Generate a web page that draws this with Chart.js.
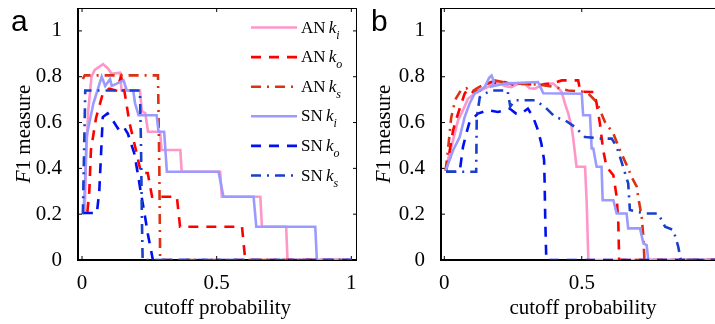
<!DOCTYPE html>
<html>
<head>
<meta charset="utf-8">
<script src="https://cdn.jsdelivr.net/npm/chart.js@4.4.0/dist/chart.umd.min.js"></script>
<style>
  html, body { margin: 0; padding: 0; background: #fff; }
  #wrap { position: relative; width: 715px; height: 324px; overflow: hidden; }
  canvas { position: absolute; top: 0; }
  #chartA { left: 0; }
  #chartB { left: 360px; }
</style>
</head>
<body>
<div id="wrap">
  <canvas id="chartA" width="360" height="324"></canvas>
  <canvas id="chartB" width="370" height="324"></canvas>
</div>
<script>
// axis ticks
const xTicks = [0, 0.5, 1];
const yTicks = [0, 0.2, 0.4, 0.6, 0.8, 1];

// legend entries: network + subscript of k
const seriesNet = ["AN", "AN", "AN", "SN", "SN", "SN"];
const seriesSub = ["i", "o", "s", "i", "o", "s"];

// panel a, [cutoff, F1]
const aANki = [[0.005,0.21],[0.01,0.21],[0.015,0.45],[0.023,0.65],[0.035,0.8],[0.047,0.83],[0.078,0.855],[0.097,0.835],[0.11,0.813],[0.14,0.818],[0.147,0.74],[0.215,0.74],[0.222,0.65],[0.235,0.64],[0.245,0.56],[0.29,0.56],[0.295,0.48],[0.365,0.48],[0.37,0.385],[0.513,0.385],[0.519,0.276],[0.662,0.276],[0.668,0.145],[0.758,0.145],[0.763,0],[1,0]];
const aANko = [[0.02,0.21],[0.027,0.3],[0.033,0.48],[0.052,0.62],[0.077,0.726],[0.101,0.748],[0.126,0.74],[0.145,0.8],[0.157,0.74],[0.176,0.6],[0.2,0.48],[0.219,0.38],[0.244,0.38],[0.26,0.276],[0.352,0.276],[0.364,0.145],[0.594,0.145],[0.606,0],[1,0]];
const aANks = [[0.003,0.79],[0.01,0.806],[0.282,0.806],[0.287,0.4],[0.29,0],[1,0]];
const aSNki = [[0.005,0.21],[0.01,0.3],[0.017,0.54],[0.042,0.683],[0.073,0.8],[0.086,0.76],[0.104,0.79],[0.11,0.76],[0.129,0.77],[0.154,0.784],[0.166,0.74],[0.19,0.74],[0.197,0.683],[0.21,0.632],[0.277,0.632],[0.284,0.56],[0.305,0.56],[0.315,0.385],[0.507,0.385],[0.525,0.276],[0.637,0.276],[0.647,0.145],[0.866,0.145],[0.872,0],[1,0]];
const aSNko = [[0.003,0.205],[0.055,0.205],[0.064,0.3],[0.077,0.624],[0.095,0.64],[0.114,0.61],[0.133,0.574],[0.151,0.588],[0.17,0.552],[0.194,0.465],[0.207,0.378],[0.219,0.29],[0.232,0.203],[0.244,0.116],[0.256,0.044],[0.263,0],[1,0]];
const aSNks = [[0.003,0.2],[0.012,0.74],[0.215,0.74],[0.219,0.5],[0.222,0.2],[0.225,0],[1,0]];

// panel b
const bANki = [[0.005,0.39],[0.013,0.436],[0.032,0.523],[0.05,0.61],[0.068,0.654],[0.086,0.704],[0.11,0.726],[0.15,0.75],[0.195,0.777],[0.22,0.76],[0.244,0.755],[0.27,0.77],[0.292,0.77],[0.31,0.75],[0.329,0.748],[0.365,0.77],[0.396,0.77],[0.415,0.75],[0.427,0.733],[0.439,0.683],[0.451,0.639],[0.463,0.581],[0.469,0.53],[0.481,0.407],[0.512,0.407],[0.518,0.247],[0.524,0],[1,0]];
const bANko = [[0.007,0.39],[0.02,0.48],[0.032,0.566],[0.045,0.62],[0.062,0.683],[0.074,0.726],[0.086,0.748],[0.104,0.733],[0.129,0.74],[0.147,0.763],[0.171,0.777],[0.195,0.77],[0.22,0.777],[0.256,0.763],[0.292,0.77],[0.34,0.763],[0.389,0.77],[0.427,0.784],[0.487,0.784],[0.495,0.735],[0.545,0.733],[0.554,0.683],[0.566,0.596],[0.572,0.537],[0.578,0.479],[0.59,0.407],[0.615,0.37],[0.627,0.276],[0.633,0.16],[0.636,0],[1,0]];
const bANks = [[0.005,0.39],[0.015,0.5],[0.025,0.62],[0.04,0.7],[0.06,0.74],[0.08,0.75],[0.1,0.735],[0.12,0.75],[0.15,0.77],[0.18,0.785],[0.22,0.775],[0.26,0.77],[0.3,0.77],[0.35,0.765],[0.4,0.755],[0.45,0.74],[0.5,0.735],[0.524,0.726],[0.554,0.69],[0.584,0.603],[0.615,0.552],[0.639,0.479],[0.669,0.4],[0.681,0.363],[0.7,0.32],[0.705,0.276],[0.718,0.189],[0.724,0.1],[0.728,0],[1,0]];
const bSNki = [[0.005,0.39],[0.032,0.479],[0.056,0.537],[0.074,0.624],[0.092,0.683],[0.11,0.726],[0.147,0.755],[0.163,0.795],[0.172,0.805],[0.18,0.78],[0.175,0.76],[0.165,0.755],[0.22,0.77],[0.3,0.775],[0.341,0.777],[0.36,0.728],[0.5,0.726],[0.505,0.632],[0.53,0.632],[0.536,0.487],[0.542,0.487],[0.554,0.407],[0.572,0.407],[0.576,0.261],[0.615,0.261],[0.627,0.203],[0.663,0.203],[0.669,0.138],[0.712,0.138],[0.724,0.073],[0.736,0.065],[0.742,0],[1,0]];
const bSNko = [[0.007,0.385],[0.056,0.385],[0.068,0.494],[0.08,0.552],[0.092,0.603],[0.122,0.639],[0.159,0.654],[0.195,0.646],[0.238,0.661],[0.26,0.64],[0.28,0.639],[0.304,0.661],[0.323,0.624],[0.341,0.566],[0.353,0.508],[0.363,0.436],[0.365,0.334],[0.367,0.189],[0.371,0],[1,0]];
const bSNks = [[0.007,0.385],[0.116,0.385],[0.118,0.62],[0.129,0.71],[0.147,0.726],[0.172,0.74],[0.23,0.74],[0.24,0.67],[0.257,0.697],[0.33,0.697],[0.366,0.668],[0.403,0.624],[0.439,0.61],[0.475,0.581],[0.512,0.537],[0.572,0.53],[0.609,0.53],[0.627,0.494],[0.639,0.45],[0.669,0.334],[0.675,0.218],[0.73,0.203],[0.778,0.203],[0.803,0.145],[0.833,0.131],[0.851,0.058],[0.86,0],[1,0]];

const SERIF = '"Liberation Serif", "Times New Roman", serif';
const colors = ["#ff96c8", "#ff0000", "#dc3214", "#9b9bff", "#0010f0", "#1a3fcc"];
const dashes = [[], [10, 8], [10, 6, 2, 6], [], [10, 8], [10, 6, 2, 6]];

function makeDatasets(list) {
  return list.map((pts, i) => ({
    label: seriesNet[i] + " k" + seriesSub[i],
    data: pts.map(p => ({ x: p[0], y: p[1] })),
    borderColor: colors[i],
    borderDash: dashes[i],
    borderWidth: 2.6,
    pointRadius: 0,
    tension: 0,
    fill: false,
    order: list.length - 1 - i
  }));
}

function line(ctx, x1, y1, x2, y2) {
  ctx.beginPath();
  ctx.moveTo(x1, y1);
  ctx.lineTo(x2, y2);
  ctx.stroke();
}

const framePlugin = {
  id: "frame",
  beforeDatasetsDraw(chart) {
    const { ctx, chartArea: a, scales } = chart;
    ctx.save();
    ctx.strokeStyle = "#000";
    ctx.lineWidth = 1;
    yTicks.forEach(v => {
      const y = scales.y.getPixelForValue(v);
      line(ctx, a.left, y, a.left + 4, y);
      line(ctx, a.right, y, a.right - 4, y);
    });
    xTicks.forEach(v => {
      const x = scales.x.getPixelForValue(v);
      line(ctx, x, a.bottom, x, a.bottom - 4);
      line(ctx, x, a.top, x, a.top + 4);
    });
    line(ctx, a.left, a.top + 0.5, a.right, a.top + 0.5);
    line(ctx, a.right - 0.5, a.top, a.right - 0.5, a.bottom);
    ctx.lineWidth = 2;
    line(ctx, a.left, a.top, a.left, a.bottom + 1);
    line(ctx, a.left - 1, a.bottom, a.right, a.bottom);
    ctx.restore();
  },
  afterDraw(chart, args, opts) {
    const { ctx, chartArea: a } = chart;
    ctx.save();
    ctx.fillStyle = "#000";
    ctx.textBaseline = "alphabetic";
    // panel letter
    ctx.font = '30px "Liberation Sans", Arial, sans-serif';
    ctx.textAlign = "left";
    ctx.fillText(opts.letter, opts.letterX, 31);
    // y title
    ctx.save();
    ctx.translate(30, (a.top + a.bottom) / 2);
    ctx.rotate(-Math.PI / 2);
    ctx.font = "italic 21px " + SERIF;
    const wF = ctx.measureText("F").width;
    ctx.font = "21px " + SERIF;
    const wR = ctx.measureText("1 measure").width;
    let x0 = -(wF + wR) / 2;
    ctx.font = "italic 21px " + SERIF;
    ctx.fillText("F", x0, 0);
    ctx.font = "21px " + SERIF;
    ctx.fillText("1 measure", x0 + wF, 0);
    ctx.restore();
    // legend
    if (opts.legend) {
      seriesNet.forEach((net, i) => {
        const cy = 27.5 + i * 29.6;
        ctx.strokeStyle = colors[i];
        ctx.lineWidth = 2.6;
        ctx.setLineDash(dashes[i]);
        line(ctx, 251, cy, 297, cy);
        ctx.setLineDash([]);
        let tx = 301;
        ctx.font = "17px " + SERIF;
        ctx.fillText(net, tx, cy + 5);
        tx += ctx.measureText(net + " ").width - 1;
        ctx.font = "italic 17px " + SERIF;
        ctx.fillText("k", tx, cy + 5);
        tx += ctx.measureText("k").width;
        ctx.font = "italic 12px " + SERIF;
        ctx.fillText(seriesSub[i], tx, cy + 11);
      });
    }
    ctx.restore();
  }
};

function makeChart(id, list, opts) {
  const tickFont = { family: SERIF, size: 21 };
  return new Chart(document.getElementById(id), {
    type: "line",
    data: { datasets: makeDatasets(list) },
    plugins: [framePlugin],
    options: {
      responsive: false,
      animation: false,
      events: [],
      layout: { padding: { left: 0, right: opts.rightPad, top: 8, bottom: 0 } },
      plugins: {
        legend: { display: false },
        tooltip: { enabled: false },
        frame: { letter: opts.letter, letterX: opts.letterX, legend: opts.legend }
      },
      scales: {
        x: {
          type: "linear",
          min: opts.xMin,
          max: 1.021,
          grid: { display: false },
          border: { display: false },
          afterBuildTicks: s => { s.ticks = xTicks.map(v => ({ value: v })); },
          afterFit: s => { s.height = 64; s.paddingLeft = 0; s.paddingRight = 0; },
          ticks: {
            font: tickFont,
            color: "#000",
            padding: 3,
            maxRotation: 0,
            callback: v => String(v)
          },
          title: {
            display: true,
            text: "cutoff probability",
            font: tickFont,
            color: "#000",
            padding: { top: 0, bottom: 3 }
          }
        },
        y: {
          min: 0,
          max: 1.1,
          grid: { display: false },
          border: { display: false },
          afterBuildTicks: s => { s.ticks = yTicks.map(v => ({ value: v })); },
          afterFit: s => { s.width = opts.left; s.paddingTop = 0; s.paddingBottom = 0; },
          ticks: {
            font: tickFont,
            color: "#000",
            padding: 8,
            callback: v => String(Math.round(v * 10) / 10)
          }
        }
      }
    }
  });
}

makeChart("chartA", [aANki, aANko, aANks, aSNki, aSNko, aSNks],
  { left: 78, rightPad: 3, xMin: -0.015, letter: "a", letterX: 11, legend: true });
makeChart("chartB", [bANki, bANko, bANks, bSNki, bSNko, bSNks],
  { left: 81, rightPad: 5, xMin: -0.012, letter: "b", letterX: 11, legend: false });
</script>
</body>
</html>
